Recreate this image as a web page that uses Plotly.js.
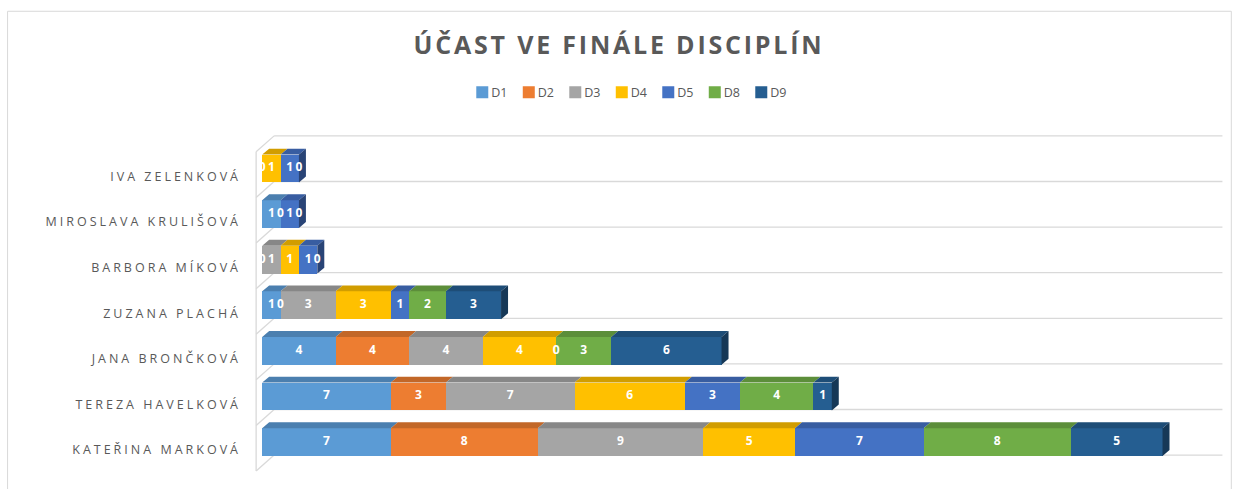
<!DOCTYPE html>
<html><head><meta charset="utf-8">
<script src="https://cdn.plot.ly/plotly-3.0.1.min.js"></script>
<style>
html,body{margin:0;padding:0;background:#fff}
#chart{width:1238px;height:489px}
#chart .ytick text{letter-spacing:3px}
#chart .gtitle{letter-spacing:2.8px}
#chart .legend .legendtext{transform:translateX(-11px)}
</style></head><body><div id="chart"></div>
<script>
// ---- data ----
const categories = ['Kateřina Marková','Tereza Havelková','Jana Brončková','Zuzana Plachá','Barbora Míková','Miroslava Krulišová','Iva Zelenková'];
const seriesNames = ['D1','D2','D3','D4','D5','D8','D9'];
const D1 = [7, 7, 4, 1, null, 1, null];
const D2 = [8, 3, 4, 0, 0, null, null];
const D3 = [9, 7, 4, 3, 1, null, 0];
const D4 = [5, 6, 4, 3, 1, 0, 1];
const D5 = [7, 3, 0, 1, 1, 1, 1];
const D8 = [8, 4, 3, 2, 0, 0, 0];
const D9 = [5, 1, 6, 3, null, null, null];
const seriesValues = [D1, D2, D3, D4, D5, D8, D9];
const colors = ['#5B9BD5','#ED7D31','#A5A5A5','#FFC000','#4472C4','#70AD47','#255E91'];

// ---- style constants ----
const BAR_W = 0.61, DX = 0.38, DY = 0.13;
function shade(hex, f){
  const n = parseInt(hex.slice(1),16);
  const r = Math.round(((n>>16)&255)*f), g = Math.round(((n>>8)&255)*f), b = Math.round((n&255)*f);
  return 'rgb('+r+','+g+','+b+')';
}

const idx = categories.map((_, i) => i);
const traces = [];
const cum = categories.map(() => 0);
const segs = [];
seriesNames.forEach((name, s) => {
  const vals = seriesValues[s];
  traces.push({
    type: 'bar', orientation: 'h', name: name, y: idx, x: vals, width: BAR_W,
    marker: {color: colors[s], line: {width: 0}}, textposition: 'none',
    hovertemplate: name + ': %{x}<extra></extra>'
  });
  segs.push(vals.map((v, c) => {
    if (v === null) return null;
    const x0 = cum[c]; cum[c] += v; return [x0, cum[c]];
  }));
});

// 3D top faces
seriesNames.forEach((name, s) => {
  const xs = [], ys = [];
  segs[s].forEach((sg, c) => {
    if (!sg || sg[1] <= sg[0]) return;
    const yt = c + BAR_W/2;
    xs.push(sg[0], sg[1], sg[1]+DX, sg[0]+DX, sg[0], null);
    ys.push(yt, yt, yt+DY, yt+DY, yt, null);
  });
  traces.push({type:'scatter', mode:'lines', x: xs, y: ys, fill:'toself', fillcolor: shade(colors[s], 0.82),
    line:{width:0, color: shade(colors[s],0.82)}, showlegend:false, hoverinfo:'skip'});
});
// 3D side faces (end of each stack)
seriesNames.forEach((name, s) => {
  const xs = [], ys = [];
  categories.forEach((_, c) => {
    let last = -1;
    for (let k = 0; k < seriesNames.length; k++) { const sg = segs[k][c]; if (sg && sg[1] > sg[0]) last = k; }
    if (last !== s) return;
    const x1 = segs[s][c][1], yt = c + BAR_W/2, yb = c - BAR_W/2;
    xs.push(x1, x1, x1+DX, x1+DX, x1, null);
    ys.push(yb, yt, yt+DY, yb+DY, yb, null);
  });
  traces.push({type:'scatter', mode:'lines', x: xs, y: ys, fill:'toself', fillcolor: shade(colors[s], 0.6),
    line:{width:0, color: shade(colors[s],0.6)}, showlegend:false, hoverinfo:'skip'});
});
// data labels
const lx = [], ly = [], lt = [];
seriesNames.forEach((name, s) => {
  segs[s].forEach((sg, c) => {
    if (!sg) return;
    lx.push((sg[0]+sg[1])/2); ly.push(c); lt.push(String(seriesValues[s][c]));
  });
});
traces.push({type:'scatter', mode:'text', x: lx, y: ly, text: lt, textposition:'middle center',
  textfont:{family:'Open Sans, sans-serif', size:12, color:'#ffffff', weight:'bold'}, showlegend:false, hoverinfo:'skip'});

// decorative 3D wall grid
const shapes = [];
const gridColor = '#d9d9d9';
for (let k = 0; k <= categories.length; k++) {
  const yg = k - 0.285;
  shapes.push({type:'line', xref:'x', yref:'y', x0:0.65, x1:52.26, y0:yg, y1:yg, line:{color:gridColor, width:1.3}, layer:'below'});
  shapes.push({type:'line', xref:'x', yref:'y', x0:-0.33, x1:0.65, y0:yg-0.35, y1:yg, line:{color:gridColor, width:1.3}, layer:'below'});
}
shapes.push({type:'line', xref:'x', yref:'y', x0:-0.33, x1:-0.33, y0:categories.length-0.285-0.35, y1:-0.285-0.35, line:{color:gridColor, width:1.3}, layer:'below'});
// chart border
shapes.push({type:'rect', xref:'paper', yref:'paper', x0:-0.2525, x1:1.0065, y0:-0.06, y1:1.353, line:{color:'#d9d9d9', width:1}, layer:'below'});

const layout = {
  width: 1238, height: 489,
  margin: {l:253, r:13, t:131.5, b:15},
  paper_bgcolor:'#ffffff', plot_bgcolor:'rgba(0,0,0,0)',
  barmode:'stack', bargap:0.39,
  title: {text:'Účast ve finále disciplín', font:{family:'Open Sans, sans-serif', size:25, color:'#595959', weight:'bold', textcase:'upper'},
    x:0.5, xref:'container', xanchor:'center', y:0.908, yref:'container', yanchor:'middle'},
  showlegend:true,
  legend:{orientation:'h', x:0.383, xanchor:'center', y:1.115, yanchor:'middle', font:{family:'Open Sans, sans-serif', size:12.5, color:'#595959'},
    itemwidth:30, entrywidth:1.5, entrywidthmode:'pixels', traceorder:'normal'},
  xaxis:{range:[-0.5, 52.4], visible:false, showgrid:false, zeroline:false, fixedrange:true},
  yaxis:{range:[-0.7, 6.8], tickvals: idx, ticktext: categories, showgrid:false, zeroline:false, showline:false, ticks:'',
    tickfont:{family:'Open Sans, sans-serif', size:12.5, color:'#595959', textcase:'upper'}, ticklabelshift:8, ticklabelstandoff:11, fixedrange:true},
  shapes: shapes,
  font:{family:'Open Sans, sans-serif'}
};
Plotly.newPlot('chart', traces, layout, {displayModeBar:false, staticPlot:true});
</script></body></html>
